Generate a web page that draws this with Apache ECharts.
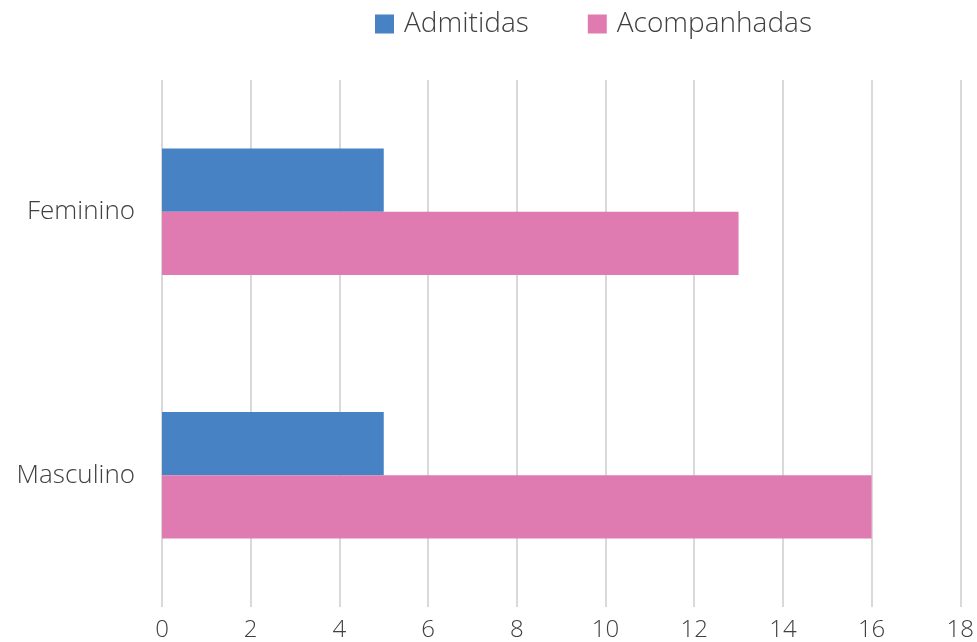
<!DOCTYPE html>
<html>
<head>
<meta charset="utf-8">
<script src="https://cdn.jsdelivr.net/npm/echarts@6/dist/echarts.min.js"></script>
<style>
	html, body { margin: 0; padding: 0; background: #fff; }
	#main { width: 977px; height: 642px; }
</style>
</head>
<body>
<div id="main"></div>
<script>
	// categories and values
	var categories = ['Feminino', 'Masculino']
	var admitidas = [5, 5]
	var acompanhadas = [13, 16]
	var xTicks = { min: 0, max: 18, interval: 2 }

	var font = '"Open Sans", sans-serif'
	var textColor = '#404040'

	var myChart = echarts.init(document.getElementById('main'))
	var option = {
		animation: false,
		backgroundColor: '#ffffff',
		textStyle: { fontFamily: font },
		legend: {
			data: ['Admitidas', 'Acompanhadas'],
			top: 5,
			left: 370,
			icon: 'rect',
			itemWidth: 19,
			itemHeight: 19,
			itemGap: 59,
			textStyle: { color: textColor, fontSize: 28, fontFamily: font, fontWeight: 300, padding: [0, 0, 0, 5] }
		},
		grid: { left: 162, right: 16, top: 80, bottom: 35, containLabel: false },
		xAxis: {
			type: 'value',
			min: xTicks.min,
			max: xTicks.max,
			interval: xTicks.interval,
			axisLine: { show: false },
			axisTick: { show: false },
			axisLabel: { color: textColor, fontSize: 24, margin: 11, fontFamily: font, fontWeight: 300 },
			splitLine: { show: true, lineStyle: { color: '#d9d9d9', width: 2 } }
		},
		yAxis: {
			type: 'category',
			data: categories,
			inverse: true,
			axisLine: { show: false },
			axisTick: { show: false },
			axisLabel: { color: textColor, fontSize: 26, margin: 27, fontFamily: font, fontWeight: 300 },
			splitLine: { show: false }
		},
		series: [
			{
				name: 'Admitidas',
				type: 'bar',
				data: admitidas,
				barGap: '0%',
				barCategoryGap: '52%',
				itemStyle: { color: '#4682C4' }
			},
			{
				name: 'Acompanhadas',
				type: 'bar',
				data: acompanhadas,
				barGap: '0%',
				barCategoryGap: '52%',
				itemStyle: { color: '#DF7BB1' }
			}
		]
	}
	myChart.setOption(option)
</script>
</body>
</html>
